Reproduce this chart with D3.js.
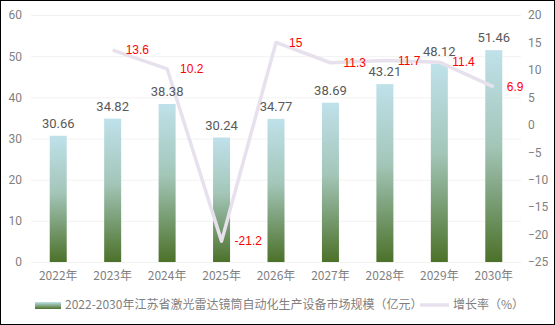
<!DOCTYPE html>
<html><head><meta charset="utf-8">
<script src="https://cdn.jsdelivr.net/npm/d3@7"></script>
<style>body{margin:0;background:#fff}svg{display:block;font-family:"Noto Sans CJK SC",sans-serif}</style>
</head><body><svg id="c" width="555" height="325"></svg>
<script>
const categories = ["2022年","2023年","2024年","2025年","2026年","2027年","2028年","2029年","2030年"];
const marketSize = [30.66,34.82,38.38,30.24,34.77,38.69,43.21,48.12,51.46];
const growthRate = [null,13.6,10.2,-21.2,15,11.3,11.7,11.4,6.9];
const leftTicks = [0,10,20,30,40,50,60];
const rightTicks = [-25,-20,-15,-10,-5,0,5,10,15,20];
const seriesNames = ["2022-2030年江苏省激光雷达镜筒自动化生产设备市场规模（亿元）","增长率（%）"];

const svg = d3.select("#c");
const W=555,H=325, L=31, R=521, T=15, B=262;
svg.append("rect").attr("x",0.5).attr("y",0.5).attr("width",W-1).attr("height",H-1).attr("fill","#fff").attr("stroke","#000");
const defs = svg.append("defs");
const g = defs.append("linearGradient").attr("id","bg").attr("x1",0).attr("y1",0).attr("x2",0).attr("y2",1);
g.append("stop").attr("offset","0%").attr("stop-color","#bfe1ea");
g.append("stop").attr("offset","45%").attr("stop-color","#a3c6b9");
g.append("stop").attr("offset","100%").attr("stop-color","#4c7129");
const lg = defs.append("linearGradient").attr("id","lgb").attr("x1",0).attr("y1",0).attr("x2",0).attr("y2",1);
lg.append("stop").attr("offset","0%").attr("stop-color","#bfe1ea");
lg.append("stop").attr("offset","100%").attr("stop-color","#4c7129");

const x = d3.scaleBand().domain(categories).range([L,R]);
const yL = d3.scaleLinear().domain([0,60]).range([B,T]);
const yR = d3.scaleLinear().domain([-25,20]).range([B,T]);

svg.append("g").selectAll("line").data(leftTicks).join("line")
 .attr("x1",L).attr("x2",R).attr("y1",d=>yL(d)+0.5).attr("y2",d=>yL(d)+0.5)
 .attr("stroke","#f2f2f2");

const axL = svg.append("g").attr("transform",`translate(${L},0)`).call(d3.axisLeft(yL).tickValues(leftTicks).tickSize(0).tickPadding(9));
const axR = svg.append("g").attr("transform",`translate(${R},0)`).call(d3.axisRight(yR).tickValues(rightTicks).tickSize(0).tickPadding(7));
const axB = svg.append("g").attr("transform",`translate(0,${B})`).call(d3.axisBottom(x).tickSize(0).tickPadding(9));
[axL,axR,axB].forEach(a=>{a.select(".domain").remove();a.selectAll("text").attr("fill","#7f7f7f").style("font-size","12px").style("font-family","Roboto,'Noto Sans CJK SC',sans-serif");});
axB.selectAll("text").style("font-family","'Noto Sans CJK SC',sans-serif");

const bw = 17;
svg.append("g").selectAll("rect").data(marketSize).join("rect")
 .attr("x",(d,i)=>x(categories[i])+x.bandwidth()/2-bw/2).attr("width",bw)
 .attr("y",d=>yL(d)).attr("height",d=>yL(0)-yL(d)).attr("fill","url(#bg)");

const pts = growthRate.map((v,i)=>({v,c:categories[i]})).filter(d=>d.v!==null);
const line = d3.line().x(d=>x(d.c)+x.bandwidth()/2).y(d=>yR(d.v));
svg.append("path").datum(pts).attr("d",line).attr("fill","none").attr("stroke","#e7e1ee").attr("stroke-width",3.5).attr("stroke-linejoin","round");

svg.append("g").selectAll("text").data(marketSize).join("text")
 .attr("x",(d,i)=>x(categories[i])+x.bandwidth()/2).attr("y",d=>yL(d)-8)
 .attr("text-anchor","middle").attr("fill","#595959").style("font-size","13px")
 .style("font-family","Roboto,sans-serif").text(d=>d.toFixed(2));

svg.append("g").selectAll("text").data(pts).join("text")
 .attr("x",d=>x(d.c)+x.bandwidth()/2+13).attr("y",d=>yR(d.v)+1)
 .attr("dominant-baseline","middle").attr("fill","#ff0000").style("font-size","12px")
 .style("font-family","'Liberation Sans',Arial,sans-serif").text(d=>d.v);

// legend
svg.append("rect").attr("x",35).attr("y",302).attr("width",26).attr("height",7).attr("fill","url(#lgb)");
svg.append("text").attr("x",65).attr("y",305.5).attr("dominant-baseline","middle").attr("fill","#7f7f7f").style("font-size","12px").text(seriesNames[0]);
svg.append("line").attr("x1",420).attr("x2",449).attr("y1",305).attr("y2",305).attr("stroke","#e7e1ee").attr("stroke-width",3.5);
svg.append("text").attr("x",453).attr("y",305.5).attr("dominant-baseline","middle").attr("fill","#7f7f7f").style("font-size","12px").text(seriesNames[1]);
</script></body></html>
